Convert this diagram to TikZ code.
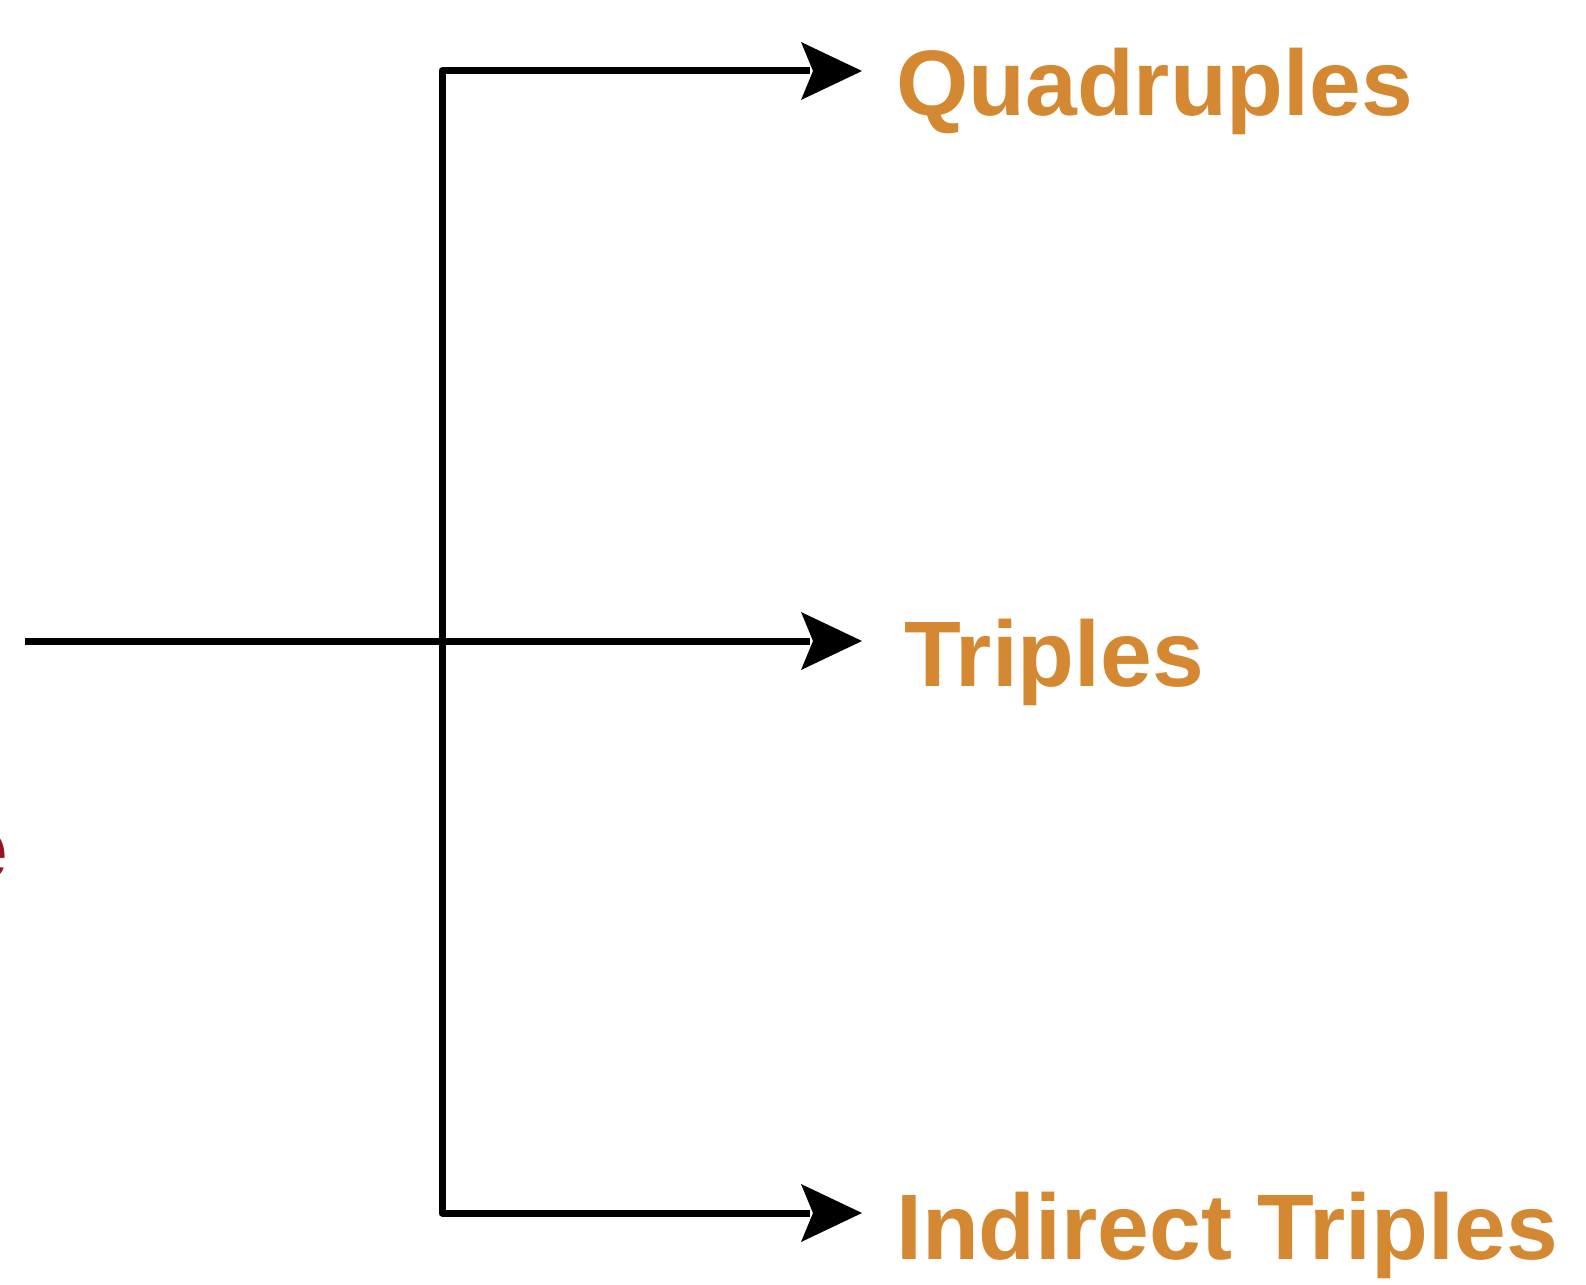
\documentclass[tikz,border=0pt]{standalone}
\usepackage{fontspec}
\setmainfont{Liberation Sans}
\definecolor{labelorange}{RGB}{212,136,50}
\definecolor{labelred}{RGB}{150,20,30}
\tikzset{
  connector/.style={line width=7pt, line join=round, draw=black, shorten >=52pt},
  lbl/.style={inner sep=0pt, anchor=base west, text=labelorange,
    font=\fontsize{93}{110}\selectfont\bfseries},
  headtip/.pic={\fill[black] (0,0) -- (-61,29) -- (-49,0) -- (-61,-29) -- cycle;},
}
\begin{document}
\begin{tikzpicture}[x=1pt, y=1pt]
  \useasboundingbox (0,-1284) rectangle (1586,0);
  % branch points and arrow tips
  \coordinate (start) at (25,-641);
  \coordinate (mid)   at (442,-641);
  \coordinate (qtip)  at (862,-71);
  \coordinate (ttip)  at (862,-641);
  \coordinate (itip)  at (862,-1213);
  % labels
  \node[lbl] (quad) at (896,-116)  {Quadruples};
  \node[lbl] (trip) at (904,-686)  {Triples};
  \node[lbl] (ind)  at (896,-1259) {Indirect Triples};
  % edge of a label running off the left side
  \node[lbl, anchor=base east, text=labelred] (src) at (8,-880) {e};
  % connectors
  \draw[connector] (start) -- (ttip);
  \draw[connector] (mid) |- (qtip);
  \draw[connector] (mid) |- (itip);
  % arrow heads
  \pic at (qtip) {headtip};
  \pic at (ttip) {headtip};
  \pic at (itip) {headtip};
\end{tikzpicture}
\end{document}
